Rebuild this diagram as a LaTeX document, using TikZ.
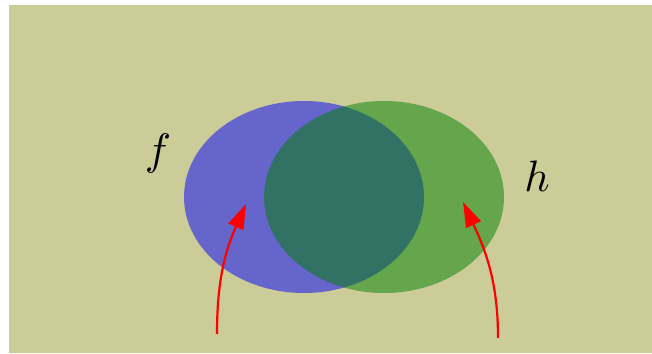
\documentclass[tikz,border=0pt]{standalone}
\usetikzlibrary{arrows.meta}
\definecolor{khaki}{RGB}{204,204,153}
\definecolor{dgreen}{RGB}{0,128,0}
\tikzset{
  setbox/.style={opacity=0.5},
  lbl/.style={scale=4.4, inner sep=0pt},
  pointer/.style={red, line width=2.2pt, -{Triangle[length=25pt,width=16pt]}}
}
\begin{document}
\begin{tikzpicture}[x=1pt,y=1pt]
\useasboundingbox (0,0) rectangle (652,353);
\fill[khaki] (9,0) rectangle (652,348);
\fill[blue, setbox] (304,156) ellipse [x radius=120, y radius=96];
\fill[dgreen, setbox] (384,156) ellipse [x radius=120, y radius=96];
\node[lbl] (f) at (158,199) {$f$};
\node[lbl] (h) at (537,177) {$h$};
\coordinate (la) at (217,19);
\coordinate (lt) at (246,149);
\coordinate (ra) at (498,15);
\coordinate (rt) at (463,151);
\draw[pointer] (la) to[out=90,in=246] (lt);
\draw[pointer] (ra) to[out=90,in=295] (rt);
\end{tikzpicture}
\end{document}
